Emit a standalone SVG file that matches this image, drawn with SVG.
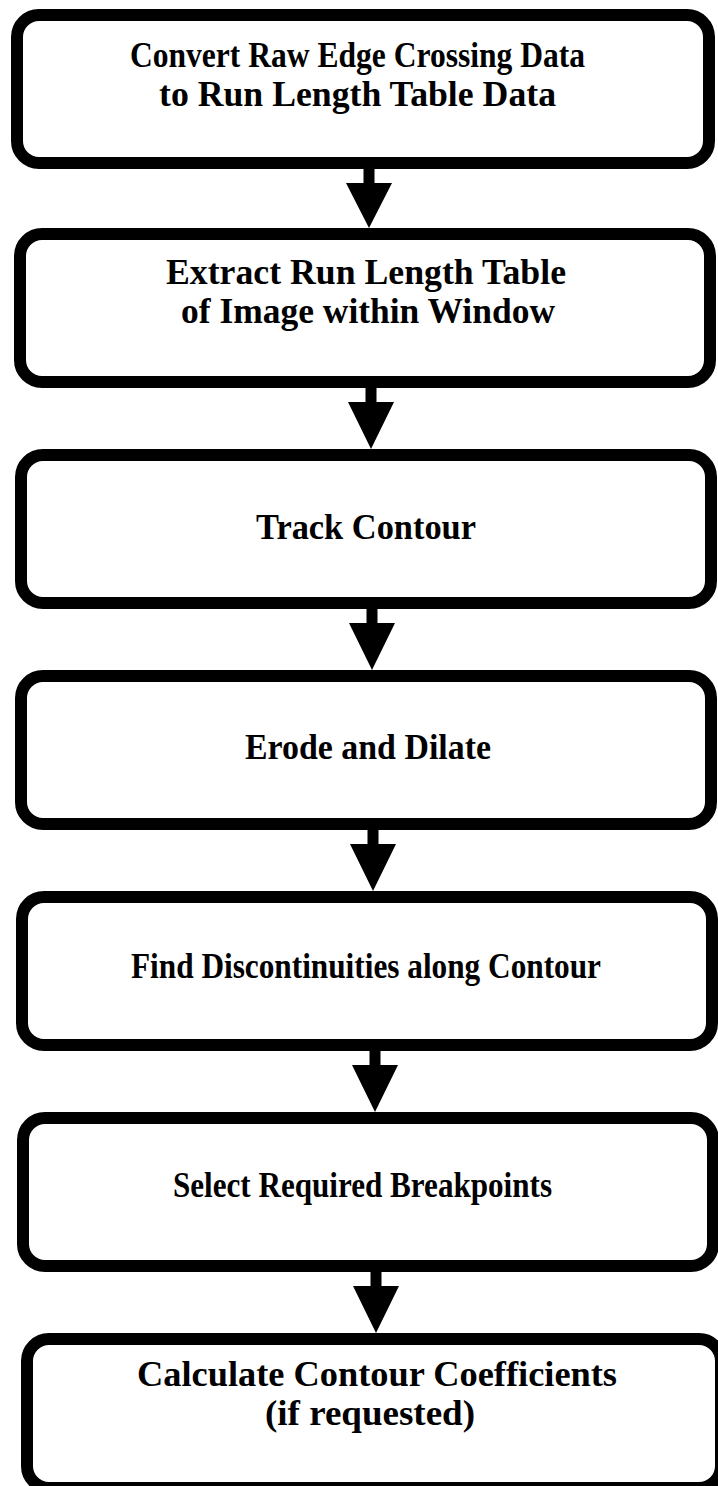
<svg xmlns="http://www.w3.org/2000/svg" width="718" height="1486" viewBox="0 0 718 1486">
<style>
.box{fill:#fff;stroke:#000;stroke-width:12}
.lbl{font-family:"Liberation Serif","Times New Roman",serif;font-weight:bold;font-size:35px;fill:#000}
.arr{fill:#000;stroke:none}
</style>
<rect width="718" height="1486" fill="#fff"/>
<g id="connectors">
<path class="arr" d="M363.5,162 h11 v21 h17.5 L369,228 L346,183 h17.5 z"/>
<path class="arr" d="M365.5,381 h11 v21 h17.5 L371,449 L348,402 h17.5 z"/>
<path class="arr" d="M366.5,602 h11 v21 h17.5 L372,670 L349,623 h17.5 z"/>
<path class="arr" d="M367.5,823 h11 v21 h17.5 L373,891 L350,844 h17.5 z"/>
<path class="arr" d="M369.5,1044 h11 v21 h17.5 L375,1112 L352,1065 h17.5 z"/>
<path class="arr" d="M370.5,1265 h11 v21 h17.5 L376,1333 L353,1286 h17.5 z"/>
</g>
<g id="n1"><rect class="box" x="17" y="15" width="692" height="148" rx="22"/>
<text class="lbl" x="130" y="67" textLength="455" lengthAdjust="spacingAndGlyphs">Convert Raw Edge Crossing Data</text>
<text class="lbl" x="159" y="106" textLength="397" lengthAdjust="spacingAndGlyphs">to Run Length Table Data</text></g>
<g id="n2"><rect class="box" x="20" y="234" width="690" height="148" rx="22"/>
<text class="lbl" x="166" y="284" textLength="400" lengthAdjust="spacingAndGlyphs">Extract Run Length Table</text>
<text class="lbl" x="181" y="323" textLength="374" lengthAdjust="spacingAndGlyphs">of Image within Window</text></g>
<g id="n3"><rect class="box" x="21" y="455" width="690" height="148" rx="22"/>
<text class="lbl" x="256" y="539" textLength="220" lengthAdjust="spacingAndGlyphs">Track Contour</text></g>
<g id="n4"><rect class="box" x="21" y="676" width="690" height="148" rx="22"/>
<text class="lbl" x="245" y="759" textLength="246" lengthAdjust="spacingAndGlyphs">Erode and Dilate</text></g>
<g id="n5"><rect class="box" x="22" y="897" width="690" height="148" rx="22"/>
<text class="lbl" x="131" y="978" textLength="470" lengthAdjust="spacingAndGlyphs">Find Discontinuities along Contour</text></g>
<g id="n6"><rect class="box" x="23" y="1118" width="690" height="148" rx="22"/>
<text class="lbl" x="173" y="1197" textLength="379" lengthAdjust="spacingAndGlyphs">Select Required Breakpoints</text></g>
<g id="n7"><rect class="box" x="27" y="1339" width="694" height="149" rx="22"/>
<text class="lbl" x="137" y="1386" textLength="480" lengthAdjust="spacingAndGlyphs">Calculate Contour Coefficients</text>
<text class="lbl" x="265" y="1425" textLength="210" lengthAdjust="spacingAndGlyphs">(if requested)</text></g>
</svg>
